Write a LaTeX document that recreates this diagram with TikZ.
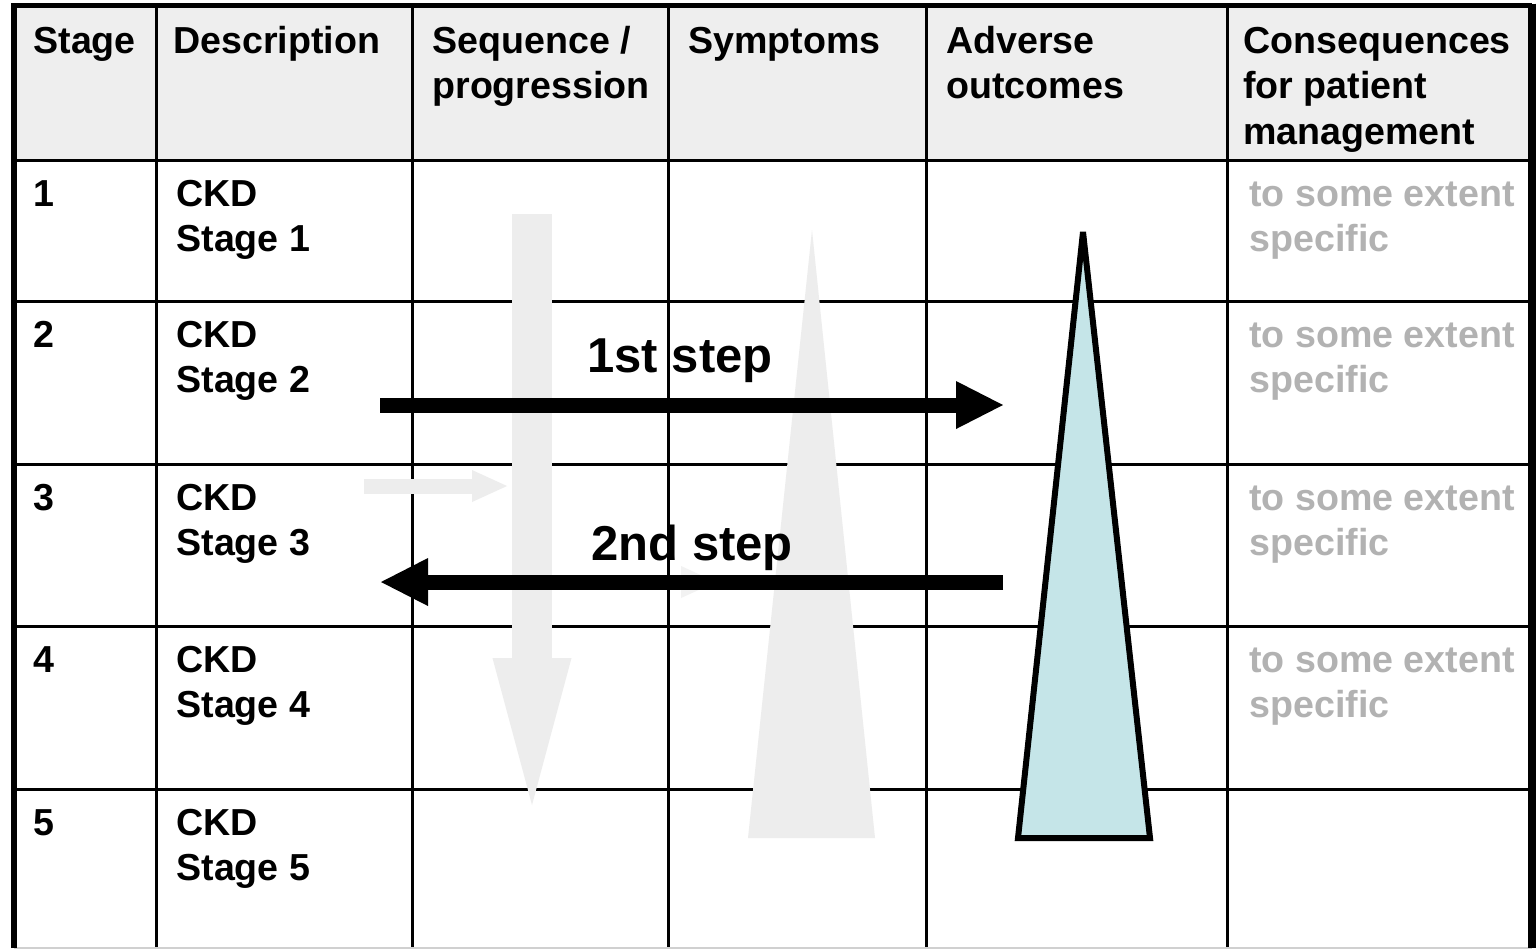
\documentclass[tikz,border=0pt]{standalone}
\usepackage{fontspec}
\setmainfont{Liberation Sans}
\usetikzlibrary{arrows.meta}
\definecolor{hdr}{RGB}{238,238,238}
\definecolor{ghost}{RGB}{237,237,237}
\definecolor{ghostb}{RGB}{242,242,242}
\definecolor{paleblue}{RGB}{197,229,232}
\definecolor{hintgray}{RGB}{178,178,178}
\definecolor{bottomline}{RGB}{208,208,208}
\begin{document}
\begin{tikzpicture}[x=0.5pt,y=-0.5pt,
  cell/.style={anchor=north west, inner sep=0pt, align=left, font=\fontsize{18.8}{22.75}\selectfont\bfseries},
  hint/.style={cell, text=hintgray},
  steplabel/.style={anchor=base west, inner sep=0pt, font=\fontsize{24.5}{28}\selectfont\bfseries},
  gridline/.style={line width=1.5pt},
  frame/.style={line width=2.75pt},
  bigarrow/.style={line width=7.5pt, -{Triangle[length=23.5pt,width=24pt,line width=0pt]}},
  ghostarrow/.style={ghost, line width=7.5pt, -{Triangle[length=17.5pt,width=16pt,line width=0pt]}},
  downarrow/.style={ghost, line width=20pt, -{Triangle[length=73.5pt,width=39.5pt,line width=0pt]}},
  wedge/.style={fill=ghost},
  bluewedge/.style={fill=paleblue, draw=black, line width=3pt, line join=miter, miter limit=2}
]
\useasboundingbox (0,0) rectangle (1536,949);
\fill[white] (0,0) rectangle (1536,949);
% header background
\fill[hdr] (13,5) rectangle (1532,160);
% grid
\foreach \yy in {160,301,464,626,789} \draw[gridline] (13,\yy) -- (1532,\yy);
\foreach \xx in {156,412,668,926,1227} \draw[gridline] (\xx,5) -- (\xx,948);
% frame
\draw[bottomline, line width=0.75pt] (14,948) -- (1532,948);
\draw[frame] (14,948) -- (14,5.5) -- (1532,5.5);
\draw[line width=4pt] (1532,3.5) -- (1532,948);

% header texts
\node[cell] (h1) at (33,21) {\strut Stage};
\node[cell] (h2) at (173,21) {\strut Description};
\node[cell] (h3) at (432,21) {\strut Sequence /\\progression};
\node[cell] (h4) at (688,21) {\strut Symptoms};
\node[cell] (h5) at (946,21) {\strut Adverse\\outcomes};
\node[cell] (h6) at (1243,21) {\strut Consequences\\for patient\\management};

% rows
\node[cell] (s1) at (33,174) {\strut 1};
\node[cell] (d1) at (176,174) {\strut CKD\\Stage 1};
\node[hint] (c1) at (1249,174) {\strut to some extent\\specific};
\node[cell] (s2) at (33,315) {\strut 2};
\node[cell] (d2) at (176,315) {\strut CKD\\Stage 2};
\node[hint] (c2) at (1249,315) {\strut to some extent\\specific};
\node[cell] (s3) at (33,478) {\strut 3};
\node[cell] (d3) at (176,478) {\strut CKD\\Stage 3};
\node[hint] (c3) at (1249,478) {\strut to some extent\\specific};
\node[cell] (s4) at (33,640) {\strut 4};
\node[cell] (d4) at (176,640) {\strut CKD\\Stage 4};
\node[hint] (c4) at (1249,640) {\strut to some extent\\specific};
\node[cell] (s5) at (33,803) {\strut 5};
\node[cell] (d5) at (176,803) {\strut CKD\\Stage 5};

% pale shapes
\coordinate (seqtop) at (532,214);
\coordinate (seqtip) at (532,805);
\draw[downarrow] (seqtop) -- (seqtip);
\fill[wedge] (812,230) -- (875,838) -- (748,838) -- cycle;
\coordinate (g1s) at (364,486);
\coordinate (g1e) at (507,486);
\draw[ghostarrow] (g1s) -- (g1e);
\coordinate (g2s) at (640,582);
\coordinate (g2e) at (716,582);
\draw[ghostarrow, ghostb] (g2s) -- (g2e);

% adverse outcome wedge
\filldraw[bluewedge] (1083,232) -- (1150,838) -- (1018,838) -- cycle;

% black arrows
\coordinate (a1s) at (380,405);
\coordinate (a1e) at (1003,405);
\draw[bigarrow] (a1s) -- (a1e);
\coordinate (a2s) at (1003,582);
\coordinate (a2e) at (381,582);
\draw[bigarrow] (a2s) -- (a2e);

\node[steplabel] (l1) at (587,372) {1st step};
\node[steplabel] (l2) at (591,560) {2nd step};
\end{tikzpicture}
\end{document}
